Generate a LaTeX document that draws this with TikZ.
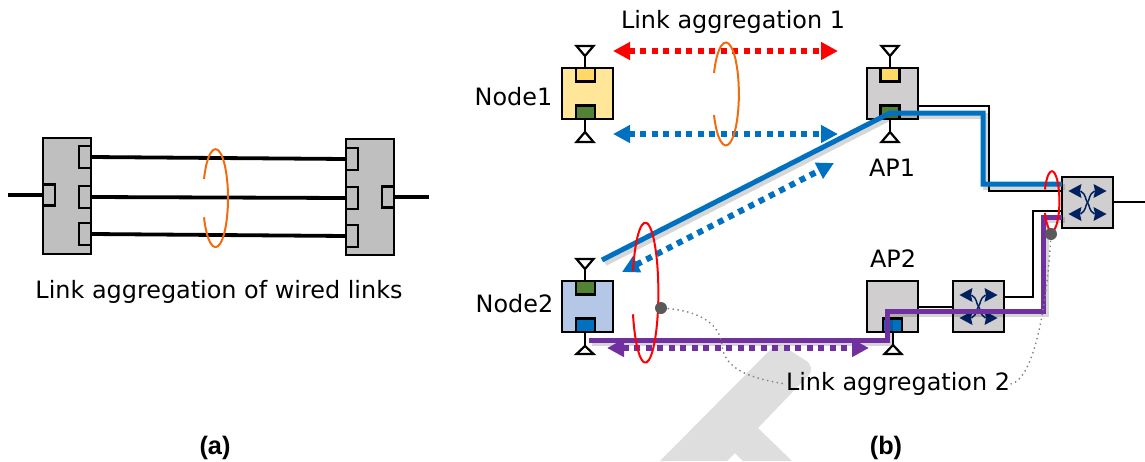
\documentclass[tikz,border=0pt]{standalone}
\usepackage{fontspec}
\setmainfont{DejaVu Sans}
\newfontfamily\capfont{Liberation Sans}
\usetikzlibrary{arrows.meta}

\definecolor{boxgray}{HTML}{BFBFBF}
\definecolor{apgray}{HTML}{D0CECE}
\definecolor{nodeyellow}{HTML}{FFE699}
\definecolor{portyellow}{HTML}{FFD966}
\definecolor{nodeblue}{HTML}{B4C7E7}
\definecolor{portgreen}{HTML}{548235}
\definecolor{linkblue}{HTML}{0070C0}
\definecolor{linkpurple}{HTML}{7030A0}
\definecolor{iconblue}{HTML}{002060}
\definecolor{ringorange}{HTML}{F26B0F}
\definecolor{dotgray}{HTML}{595959}
\definecolor{markgray}{HTML}{DEDEDE}

\tikzset{
    box/.style={draw=black, line width=0.28mm, inner sep=0pt, outer sep=0pt, minimum width=0.51cm, minimum height=0.51cm},
    port/.style={draw=black, line width=0.28mm, inner sep=0pt, outer sep=0pt, minimum width=0.19cm, minimum height=0.135cm},
    wire/.style={line width=0.25mm, black},
    thickwire/.style={line width=0.38mm, black},
    ant/.style={draw=black, line width=0.22mm, fill=white},
    link/.style={line width=0.5mm, line join=miter, preaction={draw=black, opacity=0.16, line width=0.6mm, transform canvas={xshift=0.3mm, yshift=-0.3mm}}},
    pair/.style={line width=0.6mm, dash pattern=on 0.6mm off 0.55mm, {Triangle[length=1.7mm, width=1.7mm]}-{Triangle[length=1.7mm, width=1.7mm]}},
    ring/.style={line width=0.2mm},
    hint/.style={draw=gray, line width=0.14mm, densely dotted},
    dot/.style={circle, fill=dotgray, inner sep=0pt, minimum size=0.12cm},
    txt/.style={inner sep=0pt, font=\fontsize{6.8}{8}\selectfont},
    captxt/.style={inner sep=0pt, font=\capfont\bfseries\fontsize{7.2}{8}\selectfont}
}

% antenna on a port: #1 = x, #2 = y on box, #3 = y of tip, #4 = y of base
\newcommand{\antenna}[4]{
    \draw[line width=0.22mm] (#1, #2) -- (#1, #3);
    \draw[ant] (#1, #3) -- (#1 - 0.085, #4) -- (#1 + 0.085, #4) -- cycle;
}
% crossed arrows of a switch, centred at #1
\newcommand{\swicon}[1]{
    \begin{scope}[shift={(#1)}, iconblue, line width=0.15mm]
        \draw (-0.07, 0.115) .. controls (-0.01, 0.08) and (-0.025, 0.03) .. (0, 0) .. controls (0.025, -0.03) and (0.01, -0.08) .. (0.07, -0.115);
        \draw (0.07, 0.115) .. controls (0.01, 0.08) and (0.025, 0.03) .. (0, 0) .. controls (-0.025, -0.03) and (-0.01, -0.08) .. (-0.07, -0.115);
        \foreach \sx in {1, -1} {
            \foreach \sy in {1, -1} {
                \fill (\sx * 0.075, \sy * 0.115) -- (\sx * 0.06, \sy * 0.115 + 0.07) -- (\sx * 0.19, \sy * 0.115) -- (\sx * 0.06, \sy * 0.115 - 0.07) -- cycle;
            }
        }
    \end{scope}
}

\begin{document}
\begin{tikzpicture}
    \useasboundingbox (0, 0) rectangle (11.45, 4.61);

    % grey mark behind (b)
    \fill[markgray] (6.6, 0) -- (7.72, 1.13) .. controls (7.76, 1.17) and (7.82, 1.17) .. (7.86, 1.13) -- (8.05, 1.01) .. controls (8.12, 0.97) and (8.13, 0.9) .. (8.08, 0.85) -- (7.58, 0.33) -- (7.92, 0) -- (7.43, 0) -- (7.35, 0.08) -- (7.27, 0) -- cycle;

    % (a)
    \node[box, fill=boxgray, minimum width=0.48cm, minimum height=1.16cm] (swa) at (0.67, 2.65) {};
    \node[box, fill=boxgray, minimum width=0.48cm, minimum height=1.16cm] (swb) at (3.7, 2.64) {};
    \foreach \i/\ya/\yb in {1/3.04/3.02, 2/2.64/2.63, 3/2.27/2.25} {
        \node[port, fill=boxgray, minimum width=0.12cm, minimum height=0.22cm, anchor=east] (pa\i) at (0.91, \ya) {};
        \node[port, fill=boxgray, minimum width=0.12cm, minimum height=0.22cm, anchor=west] (pb\i) at (3.46, \yb) {};
        \draw[thickwire] (pa\i.east) -- (pb\i.west);
    }
    \node[port, fill=boxgray, minimum width=0.12cm, minimum height=0.21cm, anchor=west] (pc) at (0.43, 2.66) {};
    \node[port, fill=boxgray, minimum width=0.12cm, minimum height=0.21cm, anchor=east] (pd) at (3.94, 2.64) {};
    \coordinate (ina) at (0.08, 2.66);
    \coordinate (outa) at (4.29, 2.64);
    \draw[thickwire] (ina) -- (pc.west);
    \draw[thickwire] (pd.east) -- (outa);
    \draw[ring, ringorange] (2.04, 2.82) arc[start angle=157, end angle=-157, x radius=0.125, y radius=0.49];
    \node[txt] (wired) at (2.19, 1.69) {Link aggregation of wired links};
    \node[captxt] (capa) at (2.15, 0.13) {(a)};

    % (b) nodes
    \node[box, fill=nodeyellow] (node1) at (5.875, 3.675) {};
    \node[box, fill=nodeblue] (node2) at (5.875, 1.545) {};
    \node[box, fill=apgray] (ap1) at (8.925, 3.675) {};
    \node[box, fill=apgray] (ap2) at (8.925, 1.545) {};
    \node[box, fill=apgray] (sw1) at (10.875, 2.585) {};
    \node[box, fill=apgray] (sw2) at (9.785, 1.545) {};

    \node[port, fill=portyellow, anchor=north] at (5.855, 3.93) {};
    \node[port, fill=portgreen, anchor=south] at (5.855, 3.42) {};
    \node[port, fill=portgreen, anchor=north] at (5.855, 1.8) {};
    \node[port, fill=linkblue, anchor=south] at (5.855, 1.29) {};
    \node[port, fill=portyellow, anchor=north] at (8.9, 3.93) {};
    \node[port, fill=portgreen, anchor=south] at (8.9, 3.42) {};
    \node[port, fill=linkblue, anchor=south] (p2) at (8.925, 1.29) {};

    \antenna{5.85}{3.93}{4.05}{4.15}
    \antenna{5.85}{3.42}{3.29}{3.19}
    \antenna{5.85}{1.8}{1.92}{2.02}
    \antenna{5.85}{1.29}{1.15}{1.07}
    \antenna{8.9}{3.93}{4.05}{4.15}
    \antenna{8.9}{3.42}{3.29}{3.19}
    \antenna{8.93}{1.29}{1.16}{1.07}

    \swicon{10.875, 2.585}
    \swicon{9.785, 1.545}

    % wires
    \coordinate (out) at (11.45, 2.59);
    \draw[wire] (sw1.east |- out) -- (out);
    \draw[wire] (ap1.east |- 0, 3.55) -- (9.89, 3.55) -- (9.89, 2.7) -- (sw1.west |- 0, 2.7);
    \draw[wire] (ap2.east |- 0, 1.54) -- (sw2.west |- 0, 1.54);
    \draw[wire] (sw2.east |- 0, 1.64) -- (10.33, 1.64) -- (10.33, 2.5) -- (sw1.west |- 0, 2.5);

    % links
    \draw[link, linkblue] (6.02, 2.01) -- (8.9, 3.48) -- (9.83, 3.48) -- (9.83, 2.77) -- (sw1.west |- 0, 2.77);
    \draw[link, linkpurple] (5.89, 1.21) -- (8.87, 1.21) -- (8.87, 1.5) -- (10.43, 1.5) -- (10.43, 2.44) -- (sw1.west |- 0, 2.44);

    % ranges
    \coordinate (r1a) at (6.13, 4.1);
    \coordinate (r1b) at (8.38, 4.1);
    \coordinate (b1a) at (6.13, 3.27);
    \coordinate (b1b) at (8.38, 3.27);
    \coordinate (b2a) at (6.22, 1.89);
    \coordinate (b2b) at (8.34, 2.98);
    \coordinate (p2a) at (6.07, 1.13);
    \coordinate (p2b) at (8.69, 1.13);
    \draw[pair, red] (r1a) -- (r1b);
    \draw[pair, linkblue] (b1a) -- (b1b);
    \draw[pair, linkblue] (b2a) -- (b2b);
    \draw[pair, linkpurple] (p2a) -- (p2b);

    % rings
    \draw[ring, ringorange] (7.14, 3.88) arc[start angle=156, end angle=-156, x radius=0.13, y radius=0.515];
    \draw[ring, red] (6.33, 1.9) arc[start angle=162, end angle=-162, x radius=0.13, y radius=0.7];
    \draw[ring, red] (10.45, 2.715) arc[start angle=157, end angle=-157, x radius=0.075, y radius=0.3];

    % texts
    \node[txt] (la1) at (7.33, 4.39) {Link aggregation 1};
    \node[txt] (la2) at (8.98, 0.77) {Link aggregation 2};
    \node[txt, anchor=east] (n1) at (5.53, 3.64) {Node1};
    \node[txt, anchor=east] (n2) at (5.54, 1.57) {Node2};
    \node[txt] (a1) at (8.92, 2.93) {AP1};
    \node[txt] (a2) at (8.93, 2.02) {AP2};
    \node[captxt] (capb) at (8.86, 0.13) {(b)};

    % pointers
    \node[dot] (d1) at (6.61, 1.53) {};
    \node[dot] (d2) at (10.51, 2.27) {};
    \draw[hint] (d1) .. controls (6.95, 1.5) and (7.2, 1.4) .. (7.22, 1.15) .. controls (7.25, 0.9) and (7.55, 0.82) .. (la2.west);
    \draw[hint] (d2) .. controls (10.47, 1.6) and (10.35, 0.82) .. (la2.east);
\end{tikzpicture}
\end{document}
